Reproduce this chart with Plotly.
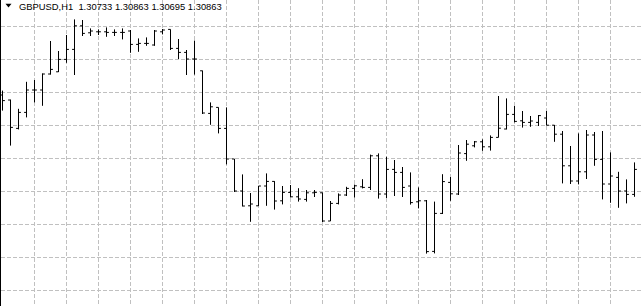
import plotly.graph_objects as go

# bar index (H1 bars, oldest -> newest)
bars = list(range(80))

opens = [1.31235, 1.31210, 1.31068, 1.31148, 1.31260, 1.31260, 1.31340, 1.31351, 1.31413, 1.31463,
         1.31581, 1.31546, 1.31551, 1.31551, 1.31548, 1.31548, 1.31555, 1.31488, 1.31493, 1.31485,
         1.31551, 1.31563, 1.31468, 1.31448, 1.31415, 1.31356, 1.31143, 1.31173, 1.31068, 1.30915,
         1.30755, 1.30681, 1.30681, 1.30780, 1.30803, 1.30706, 1.30748, 1.30726, 1.30713, 1.30746,
         1.30746, 1.30605, 1.30693, 1.30735, 1.30768, 1.30776, 1.30773, 1.30931, 1.30740, 1.30863,
         1.30848, 1.30780, 1.30701, 1.30706, 1.30453, 1.30643, 1.30798, 1.30740, 1.30942, 1.30981,
         1.31001, 1.30976, 1.31023, 1.31065, 1.31138, 1.31106, 1.31098, 1.31098, 1.31120, 1.31084,
         1.31039, 1.30881, 1.30805, 1.30851, 1.31035, 1.30913, 1.30790, 1.30823, 1.30755, 1.30738]

highs = [1.31257, 1.31212, 1.31166, 1.31301, 1.31310, 1.31343, 1.31505, 1.31455, 1.31535, 1.31613,
         1.31610, 1.31568, 1.31563, 1.31573, 1.31563, 1.31568, 1.31560, 1.31518, 1.31523, 1.31560,
         1.31565, 1.31563, 1.31515, 1.31460, 1.31507, 1.31357, 1.31198, 1.31173, 1.31173, 1.30915,
         1.30838, 1.30745, 1.30780, 1.30843, 1.30804, 1.30780, 1.30785, 1.30769, 1.30760, 1.30760,
         1.30747, 1.30705, 1.30743, 1.30776, 1.30787, 1.30814, 1.30937, 1.30943, 1.30926, 1.30910,
         1.30875, 1.30848, 1.30773, 1.30710, 1.30702, 1.30839, 1.30825, 1.30985, 1.31010, 1.31005,
         1.31013, 1.31033, 1.31230, 1.31218, 1.31180, 1.31155, 1.31130, 1.31135, 1.31155, 1.31085,
         1.31055, 1.30980, 1.31043, 1.31060, 1.31050, 1.31055, 1.30948, 1.30851, 1.30813, 1.30898]

lows = [1.31157, 1.30982, 1.31063, 1.31123, 1.31198, 1.31181, 1.31337, 1.31350, 1.31396, 1.31335,
        1.31530, 1.31530, 1.31535, 1.31526, 1.31530, 1.31513, 1.31446, 1.31451, 1.31481, 1.31481,
        1.31538, 1.31460, 1.31415, 1.31335, 1.31337, 1.31140, 1.31086, 1.31043, 1.30888, 1.30750,
        1.30678, 1.30601, 1.30680, 1.30681, 1.30662, 1.30688, 1.30723, 1.30702, 1.30702, 1.30725,
        1.30600, 1.30605, 1.30688, 1.30730, 1.30722, 1.30768, 1.30760, 1.30717, 1.30720, 1.30730,
        1.30725, 1.30687, 1.30668, 1.30442, 1.30443, 1.30640, 1.30706, 1.30735, 1.30906, 1.30973,
        1.30956, 1.30957, 1.31023, 1.31063, 1.31098, 1.31072, 1.31076, 1.31080, 1.31083, 1.31001,
        1.30793, 1.30790, 1.30788, 1.30815, 1.30881, 1.30713, 1.30696, 1.30671, 1.30693, 1.30726]

closes = [1.31207, 1.31073, 1.31148, 1.31260, 1.31260, 1.31340, 1.31363, 1.31413, 1.31463, 1.31581,
          1.31543, 1.31555, 1.31551, 1.31548, 1.31548, 1.31548, 1.31488, 1.31493, 1.31493, 1.31555,
          1.31560, 1.31468, 1.31448, 1.31415, 1.31415, 1.31145, 1.31176, 1.31068, 1.30915, 1.30755,
          1.30680, 1.30690, 1.30780, 1.30803, 1.30705, 1.30748, 1.30726, 1.30715, 1.30746, 1.30748,
          1.30605, 1.30693, 1.30735, 1.30768, 1.30781, 1.30773, 1.30931, 1.30740, 1.30863, 1.30848,
          1.30773, 1.30697, 1.30706, 1.30452, 1.30643, 1.30802, 1.30741, 1.30945, 1.30989, 1.31001,
          1.30976, 1.31023, 1.31069, 1.31138, 1.31103, 1.31098, 1.31105, 1.31132, 1.31084, 1.31039,
          1.30881, 1.30805, 1.30851, 1.31035, 1.30913, 1.30790, 1.30830, 1.30755, 1.30738, 1.30863]

symbol = "GBPUSD,H1"
header_vals = ["1.30733", "1.30863", "1.30695", "1.30863"]

W, H = 641, 306
ML = 1
PX_PER_BAR = 8
PRICE_PER_PX = 0.00005
Y_TOP = 1.31710

x0 = -(2.5 - ML) / PX_PER_BAR
x1 = x0 + (W - ML) / PX_PER_BAR
y1 = Y_TOP
y0 = Y_TOP - H * PRICE_PER_PX

fig = go.Figure()
fig.add_trace(go.Ohlc(
    x=bars, open=opens, high=highs, low=lows, close=closes,
    increasing=dict(line=dict(color="#000000", width=1)),
    decreasing=dict(line=dict(color="#000000", width=1)),
    tickwidth=0.3,
    hoverinfo="skip",
    showlegend=False,
))

grid = dict(showgrid=True, gridcolor="#c0c0c0", gridwidth=1, griddash="4px,2px",
            zeroline=False, showticklabels=False, ticks="")

fig.update_layout(
    width=W, height=H,
    margin=dict(l=ML, r=0, t=0, b=0, pad=0),
    paper_bgcolor="#ffffff", plot_bgcolor="#ffffff",
    xaxis=dict(range=[x0, x1], tickmode="array", tickvals=list(range(4, 80, 4)),
               rangeslider=dict(visible=False), showline=False, **grid),
    yaxis=dict(range=[y0, y1], tick0=Y_TOP - 26.5 * PRICE_PER_PX, dtick=33 * PRICE_PER_PX,
               showline=True, linecolor="#000000", linewidth=1, mirror=False, **grid),
    showlegend=False,
)

def px_x(p):
    return (p - ML) / (W - ML)

def px_y(p):
    return 1 - p / H

fig.add_shape(type="path", xref="paper", yref="paper",
              path=f"M {px_x(5.5)},{px_y(3.8)} L {px_x(11.5)},{px_y(3.8)} L {px_x(8.5)},{px_y(7.6)} Z",
              fillcolor="#000000", line=dict(width=0))

fig.add_annotation(
    text=symbol + "\u00a0\u00a0" + "\u00a0".join(header_vals),
    xref="paper", yref="paper", x=px_x(16.5), y=px_y(6.5),
    xanchor="left", yanchor="middle", showarrow=False,
    font=dict(family="Liberation Sans, Arial, sans-serif", size=9.4, color="#000000"),
)

fig.write_html("out.html", config={"displayModeBar": False})
